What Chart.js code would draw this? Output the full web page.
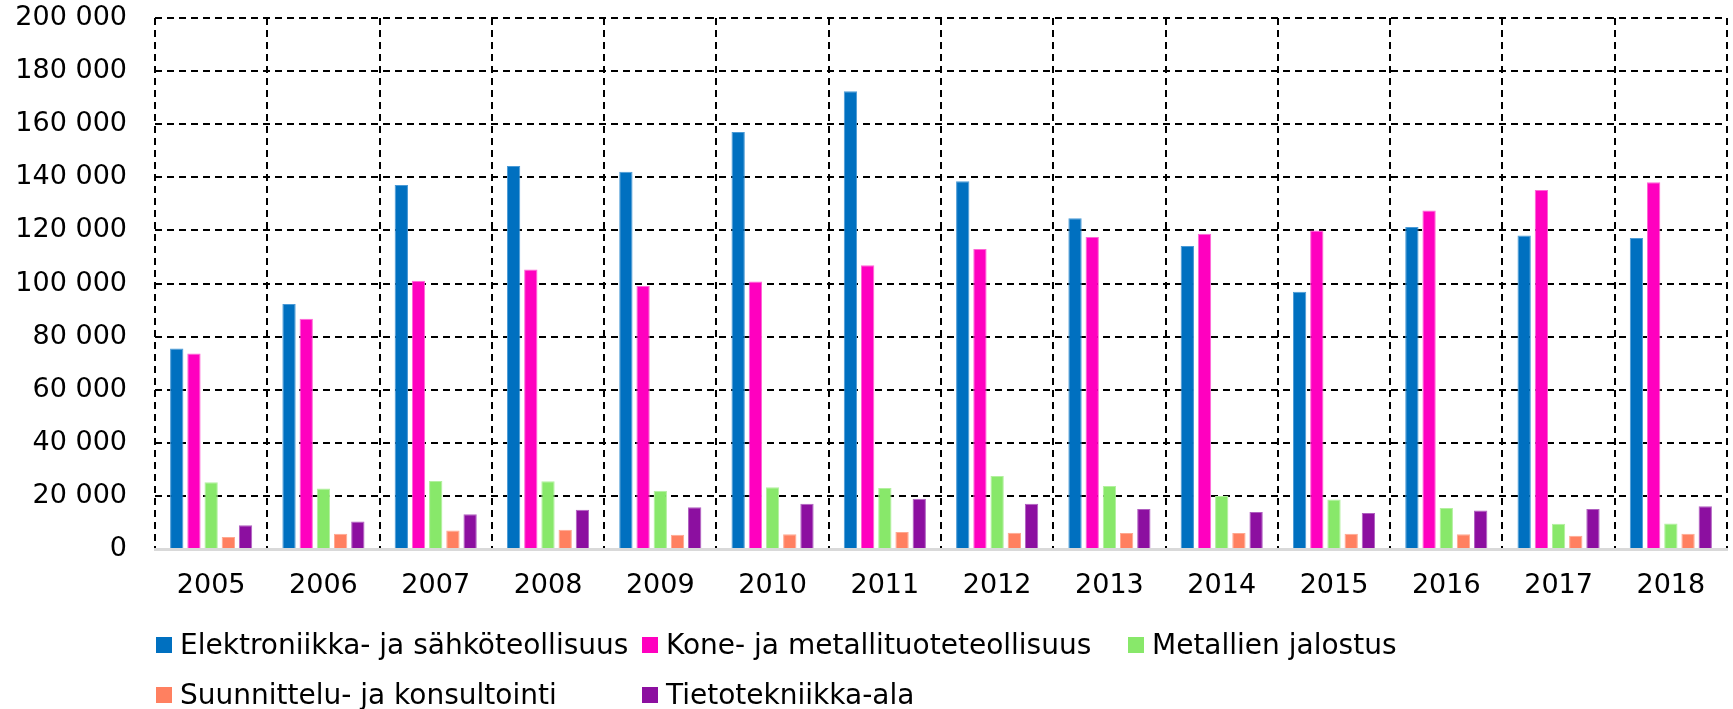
<!DOCTYPE html>
<html>
<head>
<meta charset="utf-8">
<script src="https://cdn.jsdelivr.net/npm/chart.js@4/dist/chart.umd.min.js"></script>
<style>
  html, body { margin: 0; padding: 0; background: #fff; }
  #wrap { position: relative; width: 1733px; height: 709px; overflow: hidden; }
  #chart { position: absolute; left: 0; top: 0; }
  .leg { position: absolute; font-family: "DejaVu Sans", sans-serif; font-size: 28px; color: #000;
         height: 30px; line-height: 30px; white-space: nowrap; }
  .leg i { position: absolute; left: 0; top: 7px; width: 16px; height: 16px; }
  .leg span { position: absolute; left: 24px; top: 0; }
</style>
</head>
<body>
<div id="wrap">
  <canvas id="chart" width="1733" height="709"></canvas>
</div>
<script>
// Vuodet
const years = ['2005', '2006', '2007', '2008', '2009', '2010', '2011', '2012', '2013', '2014', '2015', '2016', '2017', '2018'];

// Sarjat (arvot luettu kuvasta)
const elektroniikka = [75500, 92250, 137100, 144250, 142100, 157100, 172400, 138500, 124600, 114100, 96900, 121250, 118100, 117100];
const kone = [73600, 86750, 101000, 105250, 99100, 100750, 106900, 113000, 117500, 118750, 120000, 127500, 135250, 138100];
const metallit = [25100, 22750, 25600, 25500, 21900, 23250, 23000, 27500, 23750, 20000, 18600, 15400, 9500, 9600];
const suunnittelu = [4500, 5750, 7000, 7250, 5400, 5600, 6400, 6100, 6000, 6000, 5750, 5600, 5000, 5750];
const tietotekniikka = [8900, 10400, 13100, 14750, 15750, 17000, 18900, 17000, 15100, 13900, 13600, 14500, 15100, 16100];

const seriesNames = ['Elektroniikka- ja sähköteollisuus', 'Kone- ja metallituoteteollisuus', 'Metallien jalostus',
  'Suunnittelu- ja konsultointi', 'Tietotekniikka-ala'];
const seriesColors = ['#0070C0', '#FF00BF', '#88E86A', '#FF8060', '#8C0FA0'];
const seriesBorders = ['#4A9AD6', '#FF66D6', '#B2F09E', '#FFA890', '#B060C0'];

const yTicks = [0, 20000, 40000, 60000, 80000, 100000, 120000, 140000, 160000, 180000, 200000];

const font = { family: '"DejaVu Sans", sans-serif', size: 27 };

function fmt(v) {
  return String(v).replace(/\B(?=(\d{3})+(?!\d))/g, ' ');
}

const allSeries = [elektroniikka, kone, metallit, suunnittelu, tietotekniikka];

const datasets = allSeries.map((vals, i) => ({
  label: seriesNames[i],
  data: vals,
  backgroundColor: seriesColors[i],
  borderColor: seriesBorders[i],
  borderWidth: 1,
  categoryPercentage: 0.766,
  barPercentage: 0.775
}));

new Chart(document.getElementById('chart'), {
  type: 'bar',
  data: { labels: years, datasets: datasets },
  options: {
    responsive: false,
    animation: false,
    layout: { padding: { left: 0, right: 6, top: 18, bottom: 0 } },
    plugins: {
      legend: { display: false },
      tooltip: { enabled: false }
    },
    scales: {
      x: {
        grid: { color: '#000', lineWidth: 2, offset: true, drawTicks: false },
        border: { display: true, color: '#d9d9d9', width: 3, dash: [7, 5] },
        ticks: { font: font, color: '#000', padding: 21, maxRotation: 0 },
        afterFit: s => { s.height = 160; s.paddingLeft = 0; s.paddingRight = 0; }
      },
      y: {
        min: 0,
        max: yTicks[yTicks.length - 1],
        afterBuildTicks: s => { s.ticks = yTicks.map(v => ({ value: v })); },
        grid: {
          color: c => (c.tick && c.tick.value === 0) ? 'rgba(0,0,0,0)' : '#000',
          lineWidth: 2,
          drawTicks: false
        },
        border: { display: false, dash: [7, 5] },
        ticks: { font: font, color: '#000', padding: 28, callback: v => fmt(v) },
        afterFit: s => { s.width = 155; s.paddingTop = 0; s.paddingBottom = 0; }
      }
    }
  }
});

// Selite sarakkeisiin kuten alkuperäisessä
const wrap = document.getElementById('wrap');
const legX = [156, 642, 1128];
const legY = [630, 680];
seriesNames.forEach((name, i) => {
  const d = document.createElement('div');
  d.className = 'leg';
  d.style.left = legX[i % 3] + 'px';
  d.style.top = legY[Math.floor(i / 3)] + 'px';
  const box = document.createElement('i');
  box.style.background = seriesColors[i];
  const t = document.createElement('span');
  t.textContent = name;
  d.appendChild(box);
  d.appendChild(t);
  wrap.appendChild(d);
});
</script>
</body>
</html>
